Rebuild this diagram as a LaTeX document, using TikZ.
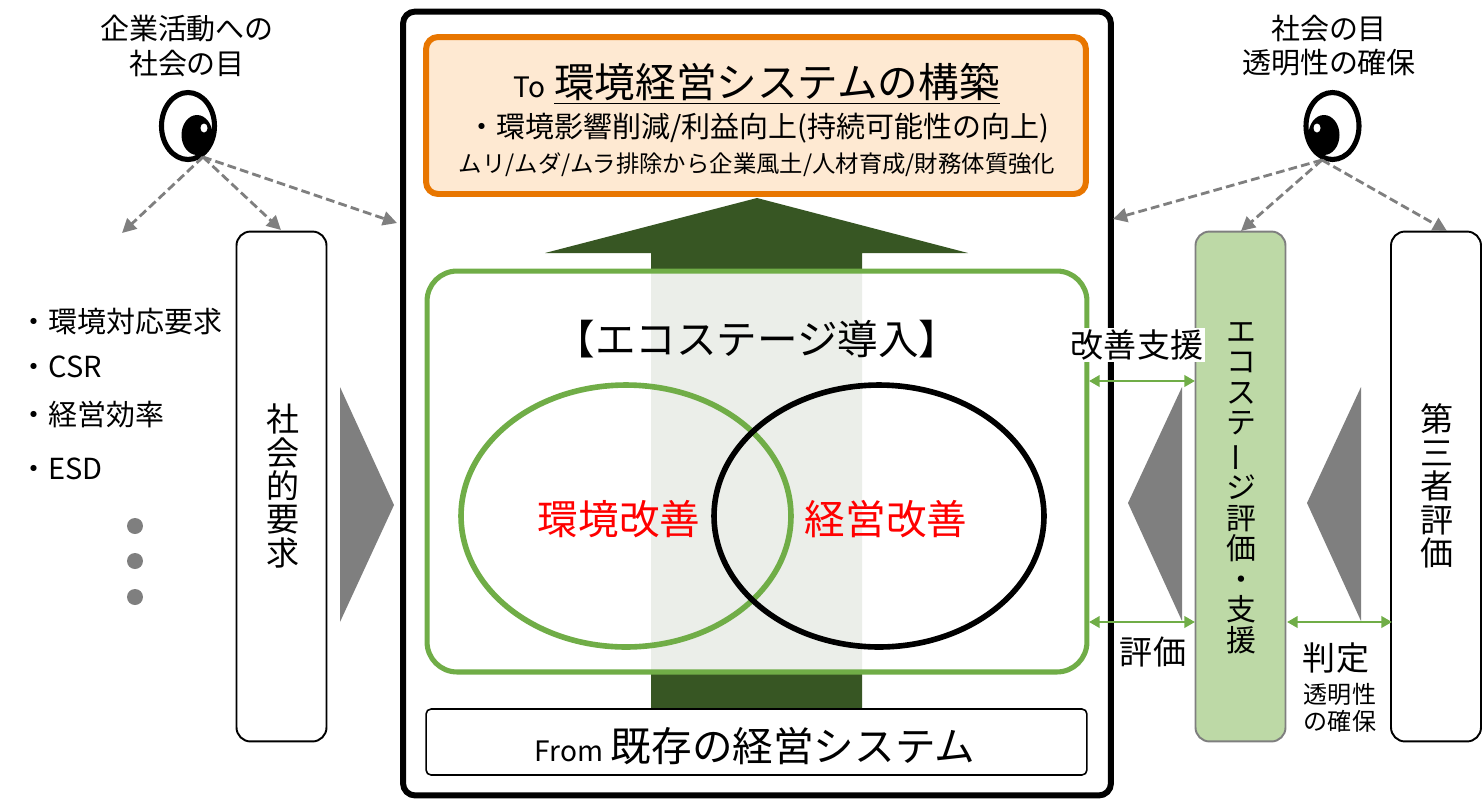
\documentclass[tikz,border=0pt]{standalone}
\usepackage{fontspec}
\usepackage{graphicx}
\setmainfont{Noto Sans CJK JP}
\usetikzlibrary{arrows.meta, positioning, shapes.geometric}
\definecolor{ecogreen}{HTML}{70AD47}
\definecolor{darkgreen}{HTML}{375623}
\definecolor{softgreen}{HTML}{BDD9A6}
\definecolor{midgray}{HTML}{7F7F7F}
\definecolor{toorange}{HTML}{E87600}
\definecolor{tofill}{HTML}{FEE9D2}
\newcommand{\fxl}{\fontsize{23.1}{24}\selectfont}
\newcommand{\fl}{\fontsize{18.8}{19}\selectfont}
\newcommand{\fm}{\fontsize{16.5}{19.4}\selectfont}
\newcommand{\fs}{\fontsize{13.7}{15.4}\selectfont}
\newcommand{\barv}{\rotatebox[origin=c]{90}{ー}}

\begin{document}
\begin{tikzpicture}[x=0.02cm, y=-0.02cm,
			sidebox/.style={draw, rounded corners=0.28cm, line width=1.1pt, fill=white,
				minimum width=1.8cm, minimum height=10.2cm},
			eyeball/.style={ellipse, draw, line width=2.9pt, fill=white, inner sep=0pt,
				minimum width=1.06cm, minimum height=1.34cm},
			pupil/.style={ellipse, fill=black, inner sep=0pt,
				minimum width=0.62cm, minimum height=0.8cm},
			glint/.style={ellipse, fill=white, inner sep=0pt,
				minimum width=0.14cm, minimum height=0.18cm},
			looks/.style={-{Triangle[length=8pt, width=8pt]}, midgray,
				dash pattern=on 5pt off 2.4pt, line width=1.6pt},
			link/.style={{Triangle[length=6pt, width=6.4pt]}-{Triangle[length=6pt, width=6.4pt]},
				ecogreen, line width=1.5pt},
			wedge/.style={fill=midgray},
			dot/.style={circle, fill=midgray, inner sep=0pt, minimum size=0.32cm},
			vtext/.style={align=center, inner sep=0pt}]
			\useasboundingbox (0,0) rectangle (1482,799);
			
			% Riquadro centrale
			\node[draw, rounded corners=0.24cm, line width=3.4pt, fill=white,
				minimum width=14.16cm, minimum height=15.68cm] (frame) at (757,403.5) {};
			
			% Freccia verde
			\fill[darkgreen] (757,198) -- (968,253) -- (862,253) -- (862,709)
				-- (651,709) -- (651,253) -- (545,253) -- cycle;
			
			% Riquadro arancione
			\node[draw=toorange, fill=tofill, rounded corners=0.24cm, line width=3.4pt,
				minimum width=13.2cm, minimum height=3.14cm] (goal) at (756,115.5) {};
			\node (goaltitle) at (756.5,84) {{\fontsize{16}{18}\selectfont To}\hspace{3pt} \fxl\underline{環境経営システムの構築}};
			\node (goalone) at (758,128) {\fontsize{16.5}{18}\selectfont ・環境影響削減/利益向上(持続可能性の向上)};
			\node (goaltwo) at (757,165) {\fontsize{13.3}{15}\selectfont ムリ/ムダ/ムラ排除から企業風土/人材育成/財務体質強化};
			
			% Riquadro verde con le due ellissi
			\node[draw=ecogreen, fill=white, fill opacity=0.9, rounded corners=0.6cm, line width=2.9pt,
				minimum width=13.2cm, minimum height=8.02cm] (stage) at (757,471.5) {};
			\node (stagetitle) at (757,339) {\fxl 【エコステージ導入】};
			\node[ellipse, draw=ecogreen, line width=3.2pt, inner sep=0pt,
				minimum width=6.6cm, minimum height=5.24cm] (envring) at (626,516) {};
			\node[ellipse, draw, line width=3.2pt, inner sep=0pt,
				minimum width=6.6cm, minimum height=5.24cm] (bizring) at (879,516) {};
			\node[red] (envlabel) at (619,519) {\fxl 環境改善};
			\node[red] (bizlabel) at (886,519) {\fxl 経営改善};
			
			% Base
			\node[draw, fill=white, rounded corners=0.1cm, line width=0.9pt,
				minimum width=13.22cm, minimum height=1.32cm] (base) at (756.5,742) {};
			\node (baselabel) at (755,746) {{\fontsize{16}{18}\selectfont From}\hspace{2pt} \fxl 既存の経営システム};
			
			% Colonne laterali
			\node[sidebox] (social) at (281.5,486.5) {};
			\node[sidebox, fill=softgreen, draw=midgray] (assess) at (1240.5,486.5) {};
			\node[sidebox] (third) at (1436,486.5) {};
			\node[vtext, font=\fl] (sociallabel) at (283,486) {社\\会\\的\\要\\求};
			\node[vtext, font=\fontsize{17}{17.4}\selectfont] (assesslabel) at (1241,488)
				{エ\\コ\\ス\\テ\\\barv\\ジ\\評\\価\\・\\支\\援};
			\node[vtext, font=\fl] (thirdlabel) at (1437,486) {第\\三\\者\\評\\価};
			
			% Triangoli grigi
			\fill[wedge] (340,387) -- (394,505) -- (340,622) -- cycle;
			\fill[wedge] (1182,387) -- (1128,503) -- (1182,621) -- cycle;
			\fill[wedge] (1361,387) -- (1307,503) -- (1361,621) -- cycle;
			
			% Occhi
			\node[eyeball] (eyeleft) at (188,126) {};
			\node[pupil] (pupilleft) at (197,135) {};
			\node[glint] (glintleft) at (204,128) {};
			\node[eyeball] (eyeright) at (1332.5,126) {};
			\node[pupil] (pupilright) at (1324,135) {};
			\node[glint] (glintright) at (1317,128) {};
			
			\node[align=center, font=\fm] (eyeleftlabel) at (187,46) {企業活動への\\社会の目};
			\node[align=center, font=\fm] (eyerightlabel) at (1329,46) {社会の目\\透明性の確保};
			
			% Frecce tratteggiate
			\coordinate (fromleft) at (203,157);
			\coordinate (fromright) at (1322,160);
			\coordinate (leftlist) at (122,233);
			\coordinate (leftsocial) at (281,230);
			\coordinate (leftframe) at (397,223);
			\coordinate (rightframe) at (1113,219);
			\coordinate (rightassess) at (1241,231);
			\coordinate (rightthird) at (1447,231);
			\draw[looks] (fromleft) -- (leftlist);
			\draw[looks] (fromleft) -- (leftsocial);
			\draw[looks] (fromleft) -- (leftframe);
			\draw[looks] (fromright) -- (rightframe);
			\draw[looks] (fromright) -- (rightassess);
			\draw[looks] (fromright) -- (rightthird);
			
			% Elenco a sinistra
			\node[anchor=west, inner sep=0pt, font=\fm] (listone) at (19,322) {・環境対応要求};
			\node[anchor=west, inner sep=0pt, font=\fm] (listtwo) at (19,367) {・CSR};
			\node[anchor=west, inner sep=0pt, font=\fm] (listthree) at (19,415) {・経営効率};
			\node[anchor=west, inner sep=0pt, font=\fm] (listfour) at (19,469) {・ESD};
			\node[dot] (dotone) at (135,526) {};
			\node[dot] (dottwo) at (135,561) {};
			\node[dot] (dotthree) at (135,597) {};
			
			% Frecce verdi
			\coordinate (stageup) at (1089,381);
			\coordinate (assessup) at (1195,381);
			\coordinate (stagedown) at (1089,622);
			\coordinate (assessdown) at (1195,622);
			\coordinate (assessout) at (1287,622);
			\coordinate (thirdin) at (1392,622);
			\draw[link] (stageup) -- (assessup);
			\draw[link] (stagedown) -- (assessdown);
			\draw[link] (assessout) -- (thirdin);
			
			% Etichette
			\node[fill=white, inner sep=0pt, minimum width=2.72cm, minimum height=0.68cm, font=\fl] (supportlabel) at (1137,345) {改善支援};
			\node[font=\fl] (evallabel) at (1153,652) {評価};
			\node[font=\fl] (judgelabel) at (1336,658) {判定};
			\node[align=center, font=\fs] (clearlabel) at (1340,708) {透明性\\の確保};
			
		\end{tikzpicture}
\end{document}
